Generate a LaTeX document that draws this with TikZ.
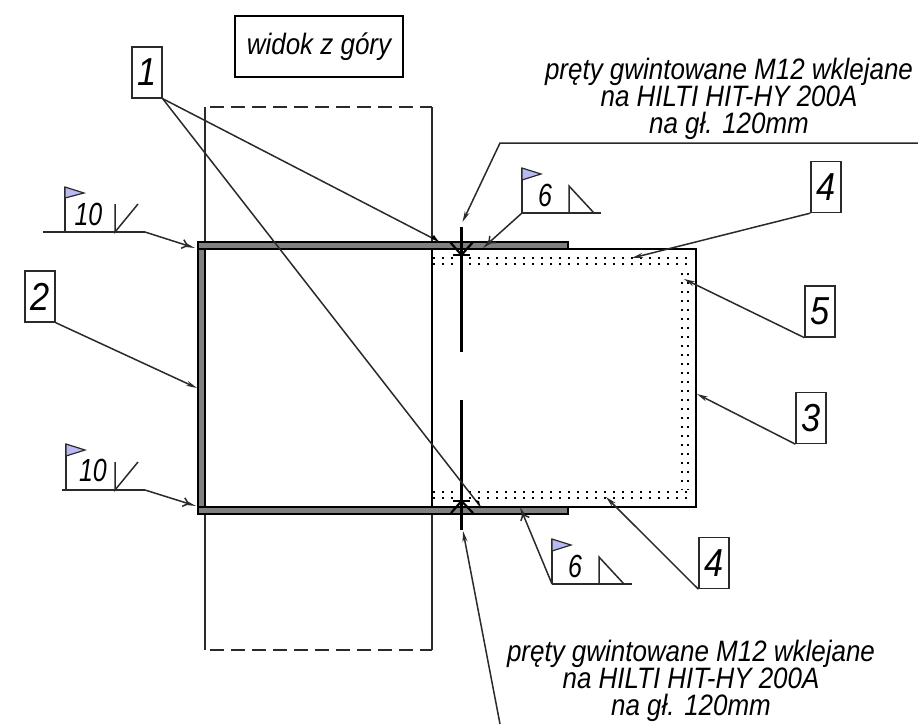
\documentclass[tikz,border=0pt]{standalone}
\usepackage{fontspec}
\setmainfont{Liberation Sans}
\newfontfamily\narrowit[FakeStretch=0.88]{Liberation Sans}
\newfontfamily\narrowerit[FakeStretch=0.78]{Liberation Sans}
\usetikzlibrary{arrows.meta}
\definecolor{ink}{HTML}{2A2A2A}
\definecolor{plate}{HTML}{808080}
\definecolor{flagfill}{HTML}{B9B9F5}
\tikzset{
  thinline/.style={draw=ink,line width=1.5pt},
  heavy/.style={draw=black,line width=2.8pt},
  platebox/.style={fill=plate,draw=black,line width=2.2pt},
  dashedline/.style={draw=ink,line width=1.4pt,dash pattern=on 14pt off 7pt},
  dotline/.style={draw=black,line width=1.5pt,dash pattern=on 1.8pt off 7.2pt},
  numbox/.style={draw=ink,line width=1.3pt,fill=white,minimum width=30pt,minimum height=51pt,inner sep=0pt,font=\narrowit\itshape\fontsize{39}{41}\selectfont},
  titlebox/.style={draw=black,line width=1.5pt,minimum width=168pt,minimum height=61pt,inner sep=0pt,font=\narrowit\itshape\fontsize{29.5}{32}\selectfont},
  longlabel/.style={align=center,inner sep=0pt,font=\narrowit\itshape\fontsize{29.5}{27}\selectfont},
  weldnum/.style={inner sep=0pt,font=\narrowerit\itshape\fontsize{32}{34}\selectfont},
  leader/.style={thinline,-{Stealth[length=11pt,width=5pt]}},
  plainlead/.style={thinline},
  weldlead/.style={thinline,-{Straight Barb[length=5pt,width=9pt,sep=-3pt]Stealth[length=10pt,width=4pt]}},
  flag/.style={fill=flagfill,draw=ink,line width=1.2pt,line join=miter},
  rodmark/.style={draw=black,line width=2.2pt},
}
\begin{document}
\begin{tikzpicture}[x=1pt,y=-1pt]
\useasboundingbox (0,0) rectangle (918,724);
% outline of the column behind
\draw[thinline] (205,107) -- (205,241);
\draw[thinline] (432,107) -- (432,241);
\draw[thinline] (205,515) -- (205,650);
\draw[thinline] (432,515) -- (432,650);
\draw[dashedline] (210,107) -- (432,107);
\draw[dashedline] (210,650) -- (432,650);
% dotted rows
\draw[dotline] (433,258) -- (691,258);
\draw[dotline] (433,264) -- (691,264);
\draw[dotline] (433,492) -- (691,492);
\draw[dotline] (433,498) -- (691,498);
\draw[dotline] (682,273) -- (682,490);
\draw[dotline] (688,273) -- (688,490);
% box
\draw[heavy] (432,249) -- (696,249) -- (696,507) -- (432,507) -- cycle;
% plates
\draw[platebox] (198,242) rectangle (205,514);
\draw[platebox] (198,242) rectangle (568,249);
\draw[platebox] (198,507) rectangle (568,514);
% rods
\draw[heavy] (461.5,227) -- (461.5,352);
\draw[heavy] (461.5,400) -- (461.5,530);
\draw[rodmark] (450,242) -- (461.5,255) -- (473,242);
\draw[rodmark] (453,255) -- (470,255);
\draw[rodmark] (451,513) -- (461.5,501) -- (473,513);
\draw[rodmark] (453,501) -- (470,501);
% labels
\node[titlebox] (title) at (319,46.5) {widok z góry};
\node[numbox] (n1) at (147,72.5) {1};
\node[numbox] (n2) at (40,296.5) {2};
\node[numbox] (n3) at (811,418) {3};
\node[numbox] (n4a) at (826,187) {4};
\node[numbox] (n5) at (820,311.5) {5};
\node[numbox] (n4b) at (714,563) {4};
\node[longlabel] (topnote) at (729,99) {pręty gwintowane M12 wklejane\\na HILTI HIT-HY 200A\\na gł. 120mm};
\node[longlabel] (botnote) at (691,681) {pręty gwintowane M12 wklejane\\na HILTI HIT-HY 200A\\na gł. 120mm};
% leader end points
\coordinate (t1a) at (438,241);
\coordinate (t1b) at (480,506);
\coordinate (t2) at (197,388);
\coordinate (t3) at (697,394);
\coordinate (t4a) at (632,258);
\coordinate (t5) at (684,279);
\coordinate (t4b) at (606,497);
\draw[plainlead] (n1.south east) -- (t1a);
\draw[plainlead] (n1.south east) -- (t1b);
\draw[leader] (n2.south east) -- (t2);
\draw[leader] (n3.south west) -- (t3);
\draw[leader] (n4a.south west) -- (t4a);
\draw[leader] (n5.south west) -- (t5);
\draw[leader] (n4b.south west) -- (t4b);
\fill[black] (t1a) ++(-7,-2.5) -- (t1a) -- ++(-4,-6) -- cycle;
\fill[black] (t1b) ++(-5,-6) -- (t1b) -- ++(-1,-5) -- cycle;
% rod notes
\coordinate (ra) at (918,143);
\coordinate (rb) at (500,143);
\coordinate (rc) at (462.5,222);
\draw[thinline,-{Stealth[length=11pt,width=5pt]}] (ra) -- (rb) -- (rc);
\coordinate (sa) at (500,724);
\coordinate (sc) at (463,531);
\draw[thinline,-{Stealth[length=11pt,width=5pt]}] (sa) -- (sc);
% weld symbol 10 top
\coordinate (wa0) at (43,232);
\coordinate (wa1) at (65,232);
\coordinate (wa2) at (115,232);
\coordinate (wa3) at (145,232);
\coordinate (wa4) at (195,248);
\draw[thinline] (wa0) -- (wa3);
\draw[weldlead] (wa3) -- (wa4);
\draw[thinline] (wa1) -- (65,187);
\draw[flag] (65,187) -- (84,193) -- (65,198) -- cycle;
\draw[thinline] (115,204) -- (wa2) -- (138,204);
\node[weldnum] (w10a) at (88.5,214) {10};
% weld symbol 10 bottom
\coordinate (wb0) at (62,490);
\coordinate (wb1) at (66,490);
\coordinate (wb2) at (115,490);
\coordinate (wb3) at (145,490);
\coordinate (wb4) at (196,506);
\draw[thinline] (wb0) -- (wb3);
\draw[weldlead] (wb3) -- (wb4);
\draw[thinline] (wb1) -- (66,444);
\draw[flag] (66,444) -- (85,450) -- (66,456) -- cycle;
\draw[thinline] (115,462) -- (wb2) -- (138,462);
\node[weldnum] (w10b) at (93,470) {10};
% weld symbol 6 top
\coordinate (wc1) at (522,213);
\coordinate (wc2) at (569,213);
\coordinate (wc3) at (601,213);
\coordinate (wc4) at (483,248);
\draw[thinline] (wc1) -- (wc3);
\draw[weldlead] (wc1) -- (wc4);
\draw[thinline] (wc1) -- (522,168);
\draw[flag] (522,168) -- (541,174) -- (522,180) -- cycle;
\draw[thinline] (wc2) -- (569,186) -- (594,213);
\node[weldnum] (w6a) at (545,195) {6};
% weld symbol 6 bottom
\coordinate (wd1) at (552,584);
\coordinate (wd2) at (599,584);
\coordinate (wd3) at (632,584);
\coordinate (wd4) at (520,507);
\draw[thinline] (wd1) -- (wd3);
\draw[weldlead] (wd1) -- (wd4);
\draw[thinline] (wd1) -- (552,539);
\draw[flag] (552,539) -- (571,545) -- (552,551) -- cycle;
\draw[thinline] (wd2) -- (599,557) -- (624,584);
\node[weldnum] (w6b) at (575,566) {6};
\end{tikzpicture}
\end{document}
